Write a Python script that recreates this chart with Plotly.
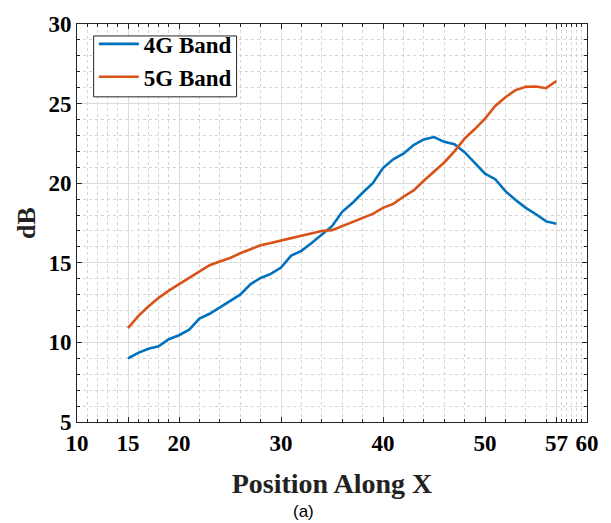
import plotly.graph_objects as go

# Data
x_pos = list(range(15, 58))
band_4g = [9.0, 9.34, 9.6, 9.75, 10.2, 10.45, 10.8, 11.5, 11.8, 12.2,
           12.55, 13.0, 13.65, 14.05, 14.3, 14.7, 15.45, 15.75, 16.25, 16.75,
           17.3, 18.2, 18.75, 19.4, 20.0, 20.95, 21.5, 21.85, 22.4, 22.75,
           22.9, 22.6, 22.45, 21.95, 21.3, 20.6, 20.25, 19.5, 18.95, 18.45,
           18.05, 17.6, 17.45]
band_5g = [10.9, 11.65, 12.25, 12.8, 13.25, 13.65, 14.07, 14.5, 14.85, 15.08,
           15.3, 15.6, 15.85, 16.1, 16.25, 16.38, 16.55, 16.7, 16.85, 17.0,
           17.05, 17.3, 17.6, 17.85, 18.07, 18.45, 18.7, 19.15, 19.55, 20.15,
           20.75, 21.3, 22.0, 22.8, 23.4, 24.05, 24.85, 25.4, 25.85, 26.05,
           26.07, 25.97, 26.42]

x_ticks = [10, 15, 20, 30, 40, 50, 57, 60]
x_minor = [11, 12, 13, 14, 16, 17, 18, 19, 22, 24, 26, 28, 32, 34, 36, 38,
           42, 44, 46, 48, 52, 54, 56, 57.5, 58, 58.5, 59, 59.5]
y_ticks = [5, 10, 15, 20, 25, 30]
y_minor = [v for v in range(6, 30) if v % 5 != 0]

SERIF = "Liberation Serif, Times New Roman, serif"
AXC = "#262626"

fig = go.Figure()
fig.add_trace(go.Scatter(x=x_pos, y=band_4g, mode="lines", name="4G Band",
                         line=dict(color="#0072BD", width=2.6)))
fig.add_trace(go.Scatter(x=x_pos, y=band_5g, mode="lines", name="5G Band",
                         line=dict(color="#D95319", width=2.6)))

fig.update_layout(
    width=611, height=523,
    margin=dict(l=77, r=13, t=17, b=101),
    paper_bgcolor="white", plot_bgcolor="white",
    font=dict(family=SERIF, color="black"),
    showlegend=True,
    legend=dict(x=0.033, y=1.004, xanchor="left", yanchor="top",
                bgcolor="rgba(0,0,0,0)", borderwidth=0,
                font=dict(family=SERIF, size=23, color="black", weight="bold"),
                tracegroupgap=0, itemwidth=40),
    shapes=[dict(type="rect", xref="paper", yref="paper", layer="above",
                 x0=0.0326, x1=0.3129, y0=0.817, y1=0.970,
                 fillcolor="white", line=dict(color=AXC, width=1))],
    xaxis=dict(
        range=[10, 60], tickmode="array", tickvals=x_ticks,
        ticktext=[str(v) for v in x_ticks],
        tickfont=dict(family=SERIF, size=23, color="black", weight="bold"),
        ticks="inside", ticklen=5, tickcolor=AXC,
        showline=True, linecolor=AXC, linewidth=1, mirror="ticks",
        showgrid=True, gridcolor="#dcdcdc", gridwidth=1,
        zeroline=False,
        minor=dict(tickmode="array", tickvals=x_minor, ticks="inside",
                   ticklen=3, tickcolor=AXC, showgrid=True,
                   gridcolor="#d4d4d4", griddash="dot", gridwidth=1),
        title=dict(text="Position Along X",
                   font=dict(family=SERIF, size=28, color="#222222", weight="bold"),
                   standoff=18),
    ),
    yaxis=dict(
        range=[5, 30], tickmode="array", tickvals=y_ticks,
        tickfont=dict(family=SERIF, size=23, color="black", weight="bold"),
        ticks="inside", ticklen=5, tickcolor=AXC,
        showline=True, linecolor=AXC, linewidth=1, mirror="ticks",
        showgrid=True, gridcolor="#dcdcdc", gridwidth=1,
        zeroline=False,
        minor=dict(tickmode="array", tickvals=y_minor, ticks="inside",
                   ticklen=3, tickcolor=AXC, showgrid=True,
                   gridcolor="#d4d4d4", griddash="dot", gridwidth=1),
        title=dict(text="dB",
                   font=dict(family=SERIF, size=26, color="#222222", weight="bold"),
                   standoff=5),
    ),
    annotations=[dict(text="(a)", xref="paper", yref="paper",
                      x=(308 - 77) / 521, y=-(513 - 422) / 405,
                      xanchor="center", yanchor="middle", showarrow=False,
                      font=dict(family="Liberation Sans, Arial, sans-serif",
                                size=17, color="black"))],
)

fig.write_html("out.html")
